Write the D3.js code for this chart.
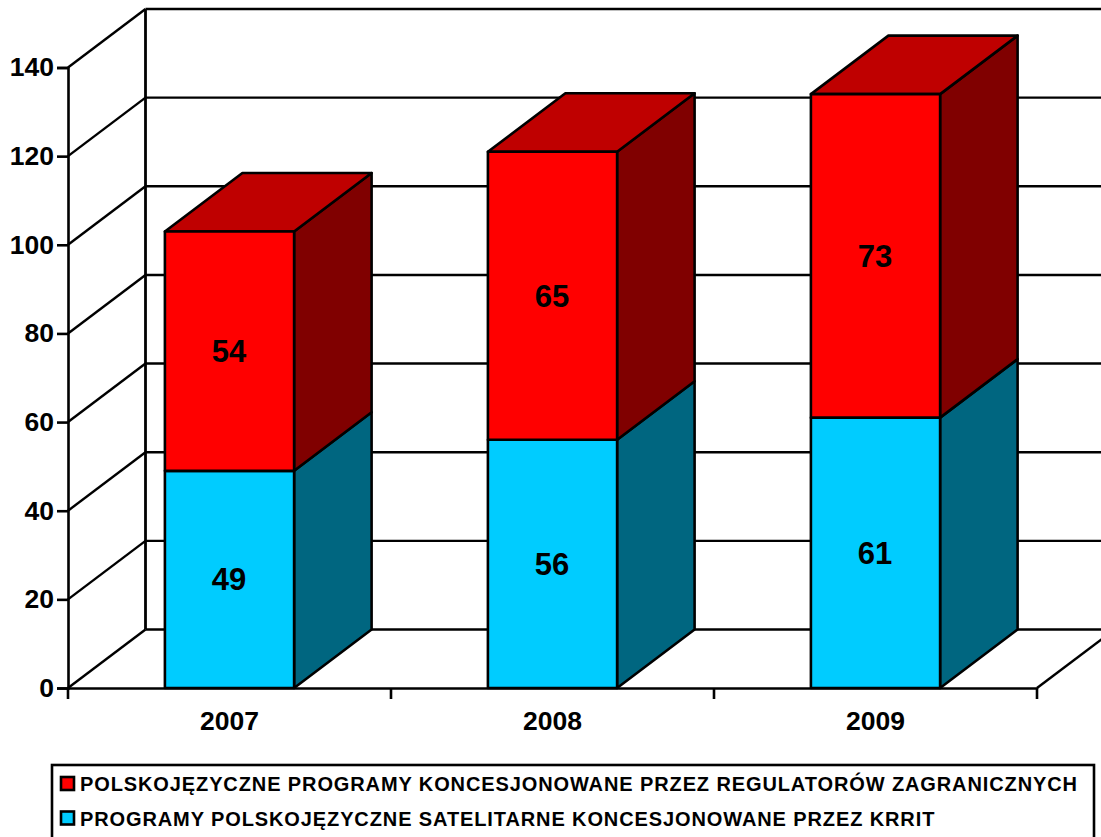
<!DOCTYPE html>
<html>
<head>
<meta charset="utf-8">
<script src="https://cdnjs.cloudflare.com/ajax/libs/d3/7.8.5/d3.min.js"></script>
<style>
html,body{margin:0;padding:0;background:#fff;overflow:hidden}
svg{display:block}
text{font-family:"Liberation Sans",Arial,sans-serif;font-weight:bold;fill:#000}
.axis path,.axis line{stroke:#000;stroke-width:2.6px}
</style>
</head>
<body>
<div id="chart"></div>
<script>
var years = ["2007", "2008", "2009"];
var krrit = [49, 56, 61];
var zagraniczne = [54, 65, 73];
var yTicks = [0, 20, 40, 60, 80, 100, 120, 140];
var legendLabels = [
    "POLSKOJĘZYCZNE PROGRAMY KONCESJONOWANE PRZEZ REGULATORÓW ZAGRANICZNYCH",
    "PROGRAMY POLSKOJĘZYCZNE SATELITARNE KONCESJONOWANE PRZEZ KRRIT"
];

var width = 1101, height = 837;
var dx = 77.5, dy = -58.5;

var svg = d3.select("#chart").append("svg")
    .attr("width", width)
    .attr("height", height);

var x = d3.scaleBand().domain(years).range([68, 1037]).paddingInner(0.6).paddingOuter(0.3);
var y = d3.scaleLinear().domain([0, 140]).range([688, 67.5]);

var rows = years.map(function (yr, i) {
    return [
        {year: yr, y0: 0, y1: krrit[i], front: "#00ccff", side: "#006680", top: "#00a3cc"},
        {year: yr, y0: krrit[i], y1: krrit[i] + zagraniczne[i], front: "#ff0000", side: "#800000", top: "#bf0000"}
    ];
});

function line(g, x1, y1, x2, y2, w) {
    g.append("line")
        .attr("x1", x1).attr("y1", y1).attr("x2", x2).attr("y2", y2)
        .attr("stroke", "#000").attr("stroke-width", w || 2.4);
}

// walls and grid
var grid = svg.append("g");
yTicks.forEach(function (t) {
    line(grid, x.range()[0], y(t), x.range()[0] + dx, y(t) + dy);
    line(grid, x.range()[0] + dx, y(t) + dy, width, y(t) + dy);
});
line(grid, x.range()[0] + dx, y(140) + dy, x.range()[0] + dx, y(0) + dy, 2.8);
line(grid, x.range()[1], y(0), x.range()[1] + dx, y(0) + dy);

// bars, one stack per year
var bars = svg.append("g");
rows.forEach(function (stack) {
    stack.forEach(function (d, k) {
        var x0 = x(d.year), w = x.bandwidth();
        var g = bars.append("g")
            .attr("stroke", "#000").attr("stroke-width", 2.6).attr("stroke-linejoin", "round");
        g.append("polygon")
            .attr("fill", d.side)
            .attr("points", [[x0 + w, y(d.y0)], [x0 + w + dx, y(d.y0) + dy], [x0 + w + dx, y(d.y1) + dy], [x0 + w, y(d.y1)]].join(" "));
        if (k == stack.length - 1) {
            g.append("polygon")
                .attr("fill", d.top)
                .attr("points", [[x0, y(d.y1)], [x0 + dx, y(d.y1) + dy], [x0 + w + dx, y(d.y1) + dy], [x0 + w, y(d.y1)]].join(" "));
        }
        g.append("rect")
            .attr("x", x0).attr("y", y(d.y1))
            .attr("width", w).attr("height", y(d.y0) - y(d.y1))
            .attr("fill", d.front);
    });
});

// value labels on top of the bars
rows.forEach(function (stack) {
    stack.forEach(function (d) {
        svg.append("text")
            .attr("x", x(d.year) + x.bandwidth() / 2 - 0.5)
            .attr("y", (y(d.y0) + y(d.y1)) / 2)
            .attr("dy", "0.35em")
            .attr("text-anchor", "middle")
            .style("font-size", "31px")
            .text(d.y1 - d.y0);
    });
});

// axes
var yAxis = d3.axisLeft(y).tickValues(yTicks).tickSize(11).tickPadding(3);
var gy = svg.append("g").attr("class", "axis")
    .attr("transform", "translate(" + x.range()[0] + ",0)")
    .call(yAxis);
gy.selectAll("text").style("font-size", "26.5px").attr("font-family", null);

var xAxis = d3.axisBottom(x).tickSize(0).tickPadding(23);
var gx = svg.append("g").attr("class", "axis")
    .attr("transform", "translate(0," + y(0) + ")")
    .call(xAxis);
gx.selectAll("text").style("font-size", "26.5px").attr("font-family", null);

// ticks sit between the categories, not under them
d3.range(years.length + 1).forEach(function (i) {
    var px = x.range()[0] + i * x.step();
    line(svg, px, y(0), px, y(0) + 11, 2.6);
});

// legend
var lx = 52, ly = 765;
svg.append("rect")
    .attr("x", lx).attr("y", ly)
    .attr("width", 1042).attr("height", 90)
    .attr("fill", "#fff").attr("stroke", "#000").attr("stroke-width", 2.6);

var legendColors = ["#ff0000", "#00ccff"];
legendLabels.forEach(function (label, i) {
    var cy = 784 + i * 34.5;
    svg.append("rect")
        .attr("x", 61).attr("y", cy - 7)
        .attr("width", 13).attr("height", 13)
        .attr("fill", legendColors[i]).attr("stroke", "#000").attr("stroke-width", 2.6);
    svg.append("text")
        .attr("x", 80).attr("y", cy)
        .attr("dy", "0.35em")
        .style("font-size", "20px")
        .style("letter-spacing", "0.89px")
        .text(label);
});
</script>
</body>
</html>
